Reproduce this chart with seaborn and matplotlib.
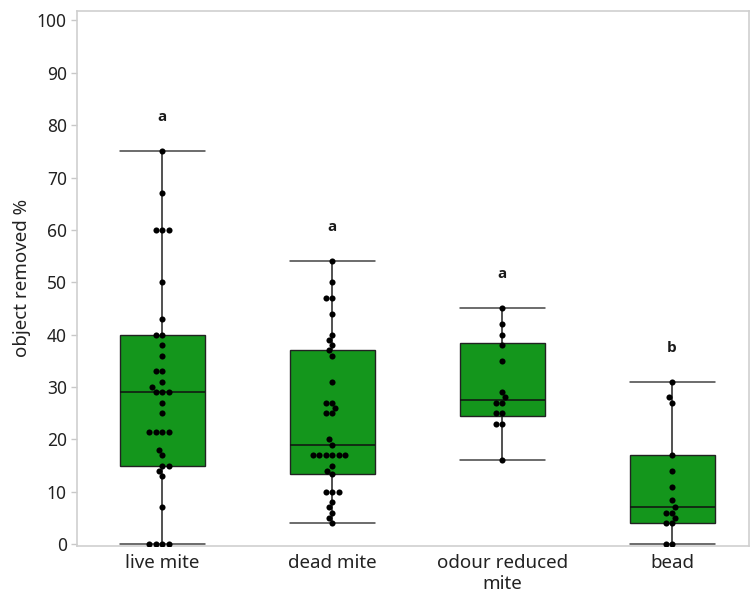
import numpy as np
import pandas as pd
import seaborn as sns
import matplotlib.pyplot as plt

# values
live_mite = [75, 67, 60, 60, 60, 50, 43, 40, 40, 38, 36, 33, 33, 31, 30, 29, 29, 29,
             27, 25, 21.5, 21.5, 21.5, 21.5, 18, 17, 15, 15, 14, 13, 7, 0, 0, 0, 0]
dead_mite = [54, 50, 47, 47, 44, 40, 39, 38, 37, 36, 31, 27, 27, 26, 25, 25, 20, 19,
             17, 17, 17, 17, 17, 17, 15, 14, 13.4, 10, 10, 10, 8, 7, 6, 5, 4]
odour_reduced = [45, 42, 40, 38, 35, 29, 28, 27, 27, 25, 25, 23, 23, 16]
bead = [31, 28, 27, 17, 14, 11, 8.5, 7, 6, 6, 5, 4, 4, 0, 0]

groups = ["live mite", "dead mite", "odour reduced\nmite", "bead"]
letters = ["a", "a", "a", "b"]

series = [live_mite, dead_mite, odour_reduced, bead]
df = pd.DataFrame({
    "group": np.repeat(groups, [len(s) for s in series]),
    "value": np.concatenate(series),
})

sns.set_theme(style="white")
plt.rcParams["font.family"] = ["Noto Sans", "DejaVu Sans"]

fig = plt.figure(figsize=(7.5, 5.99), dpi=100)
ax = fig.add_axes([0.103, 0.089, 0.895, 0.893])


def jmp_stats(vals):
    # JMP style quantiles ((n+1)p), whiskers to furthest point within 1.5 IQR
    v = np.asarray(vals, dtype=float)
    q1, med, q3 = np.percentile(v, [25, 50, 75], method="weibull")
    iqr = q3 - q1
    lo = v[v >= q1 - 1.5 * iqr].min()
    hi = v[v <= q3 + 1.5 * iqr].max()
    return dict(med=med, q1=q1, q3=q3, whislo=lo, whishi=hi, fliers=[])


stats = [jmp_stats(s) for s in series]
ax.bxp(stats, positions=range(len(groups)), widths=0.5, patch_artist=True,
       showfliers=False,
       boxprops=dict(facecolor="#14961c", edgecolor="#222222", linewidth=1),
       medianprops=dict(color="#111111", linewidth=1.1),
       whiskerprops=dict(color="#222222", linewidth=1.1),
       capprops=dict(color="#444444", linewidth=1.1),
       capwidths=0.5)

sns.swarmplot(data=df, x="group", y="value", order=groups, color="black",
              size=4.4, ax=ax, zorder=3)

for i, s in enumerate(series):
    ax.text(i, max(s) + 6.5, letters[i], ha="center", va="center",
            fontsize=11, fontweight="bold", color="#1a1a1a",
            family=["Open Sans", "DejaVu Sans"])

ax.set_xlim(-0.5, 3.45)
ax.set_ylim(-0.3, 101.85)
ax.set_yticks(range(0, 101, 10))
ax.set_xticks(range(len(groups)))
ax.set_xticklabels(groups)
ax.set_xlabel("")
ax.set_ylabel("object removed %", fontsize=13.5, color="#222222")
ax.tick_params(axis="y", length=4, width=1, color="#c8c8c8", labelsize=12.5,
               labelcolor="#222222", left=True)
ax.tick_params(axis="x", length=0, labelsize=13.5, labelcolor="#222222", pad=6)
for sp in ax.spines.values():
    sp.set_color("#cfcfcf")
    sp.set_linewidth(1.2)

fig.savefig("out.png", dpi=100)
